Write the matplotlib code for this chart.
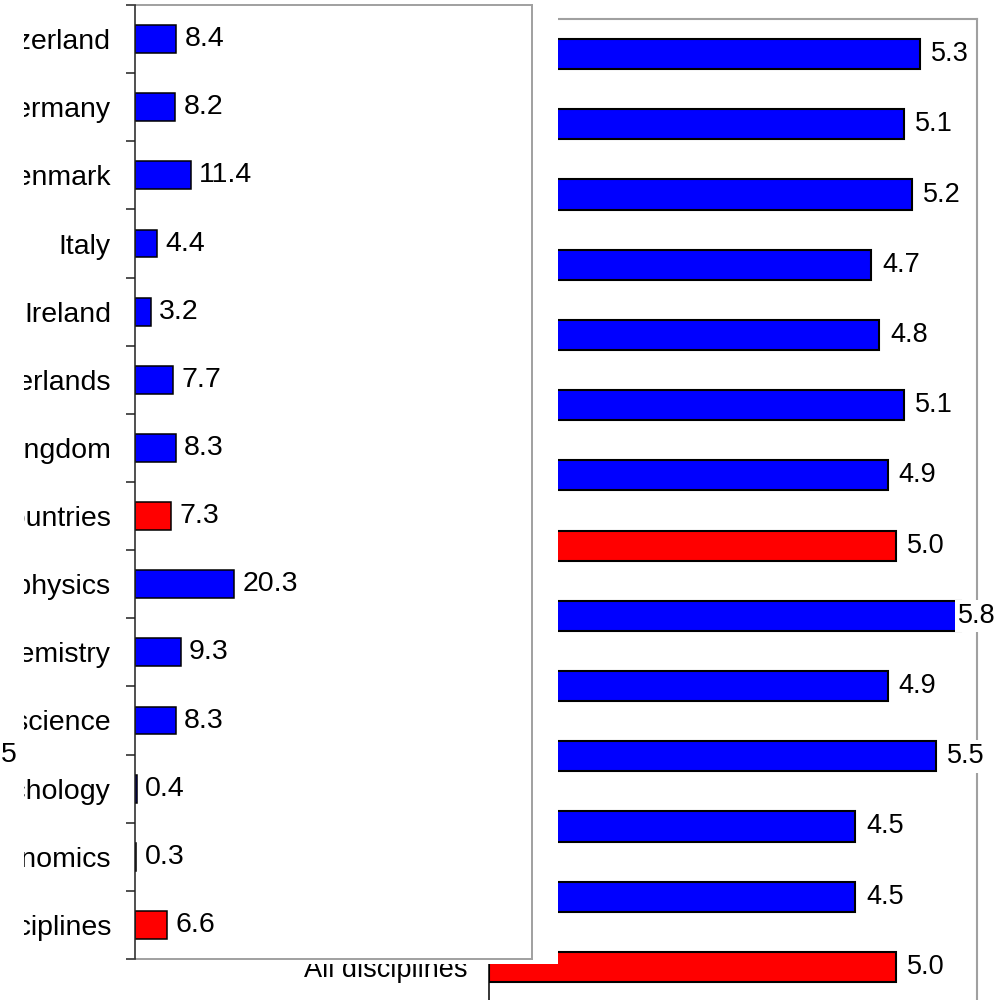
import matplotlib
matplotlib.use('Agg')
import matplotlib.pyplot as plt
from matplotlib.patches import Rectangle
import numpy as np

# ---- data ----
categories = ["Switzerland", "Germany", "Denmark", "Italy", "Ireland", "Netherlands",
              "United Kingdom", "All countries", "Astrophysics", "Chemistry",
              "Computer science", "Psychology", "Economics", "All disciplines"]
left_values = [8.4, 8.2, 11.4, 4.4, 3.2, 7.7, 8.3, 7.3, 20.3, 9.3, 8.3, 0.4, 0.3, 6.6]
right_values = [5.3, 5.1, 5.2, 4.7, 4.8, 5.1, 4.9, 5.0, 5.8, 4.9, 5.5, 4.5, 4.5, 5.0]
highlight = ["All countries", "All disciplines"]
stray_tick_label = "5"

plt.rcParams['font.family'] = ['Liberation Sans', 'DejaVu Sans']

W, H = 1002, 1000
fig = plt.figure(figsize=(W / 100, H / 100), dpi=100)


def fx(px):
    return px / W


def fy(py):
    return 1 - py / H


GREY = '#a0a0a0'
DARK = '#202020'
FS_L = 20.5
FS_R = 19.5
colors = ['#FF0000' if c in highlight else '#0000FF' for c in categories]
n = len(categories)
pos = np.arange(n)

# ---- right panel (drawn first, partly covered) ----
axR = fig.add_axes([fx(489), fy(1002), fx(977) - fx(489), fy(19) - fy(1002)], zorder=0)
axR.barh(pos, right_values, height=0.43, color=colors, edgecolor='black', linewidth=1.5)
axR.set_xlim(0, 6)
axR.set_ylim(n - 0.5, -0.5)
axR.set_xticks([])
axR.set_yticks(pos)
axR.set_yticklabels(categories, fontsize=FS_R)
axR.tick_params(axis='y', length=0, pad=15.8)
for s in ['top', 'right', 'bottom']:
    axR.spines[s].set_color(GREY)
    axR.spines[s].set_linewidth(1.5)
axR.spines['left'].set_color('black')
axR.spines['left'].set_linewidth(1.1)
labelsR = []
for p, v in zip(pos, right_values):
    t = axR.annotate(f"{v:.1f}", xy=(v, p), xytext=(8.0, 0), textcoords='offset points',
                     va='center', ha='left', fontsize=FS_R,
                     bbox=dict(boxstyle='square,pad=0.12', fc='white', ec='none'), zorder=5)
    labelsR.append(t)

# white cover over the right panel's left part
fig.add_artist(Rectangle((0, fy(964)), fx(558), 964 / H, transform=fig.transFigure,
                         facecolor='white', edgecolor='none', zorder=1))

# ---- left panel ----
axL = fig.add_axes([fx(135), fy(959), fx(532) - fx(135), fy(5) - fy(959)], zorder=2)
axL.set_facecolor('white')
axL.barh(pos, left_values, height=0.41, color=colors, edgecolor='black', linewidth=1.1)
axL.set_xlim(0, 81)
axL.set_ylim(n - 0.5, -0.5)
axL.set_xticks([])
axL.set_yticks(np.arange(n + 1) - 0.5)
axL.set_yticklabels([])
axL.set_yticks(pos, minor=True)
axL.set_yticklabels(categories, minor=True, fontsize=FS_L)
axL.tick_params(axis='y', which='major', length=6.5, width=1.1, color=DARK, direction='out')
axL.tick_params(axis='y', which='minor', length=0, pad=17.3)
for s in ['top', 'right', 'bottom']:
    axL.spines[s].set_color(GREY)
    axL.spines[s].set_linewidth(1.4)
axL.spines['left'].set_color(DARK)
axL.spines['left'].set_linewidth(1.1)
axL.spines['left'].set_zorder(4)
for p, v in zip(pos, left_values):
    axL.annotate(f"{v:.1f}", xy=(v, p), xytext=(6.0, 0), textcoords='offset points',
                 va='center', ha='left', fontsize=FS_L)

# clip strip on the far left edge of the category labels
fig.add_artist(Rectangle((0, fy(963)), fx(24), 963 / H, transform=fig.transFigure,
                         facecolor='white', edgecolor='none', zorder=3))
fig.text(fx(17), fy(755), stray_tick_label, ha='right', va='center', fontsize=FS_L, zorder=4)

# keep right-panel value labels inside the picture
fig.canvas.draw()
renderer = fig.canvas.get_renderer()
for t in labelsR:
    bb = t.get_window_extent(renderer)
    if bb.x1 > W - 6:
        shift_pt = (bb.x1 - (W - 6)) * 72 / 100
        t.xyann = (t.xyann[0] - shift_pt, t.xyann[1])

fig.savefig('out.png', dpi=100)
